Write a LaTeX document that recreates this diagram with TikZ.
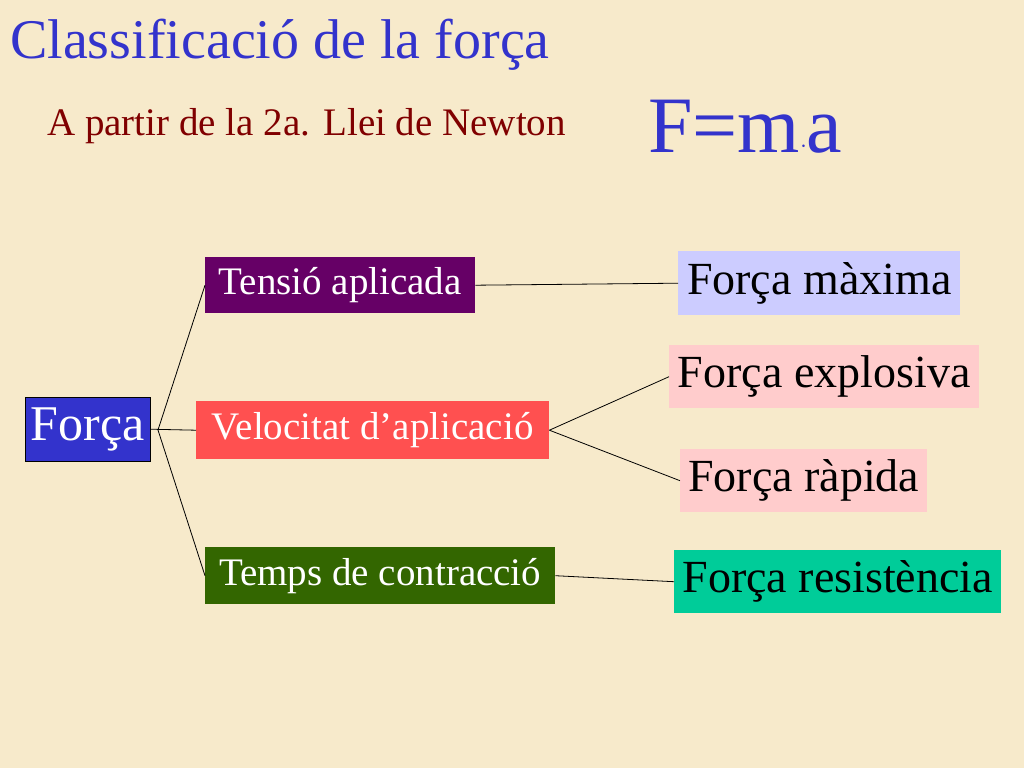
\documentclass[tikz,border=0pt]{standalone}
\usepackage{fontspec}
\setmainfont{Liberation Serif}
\definecolor{bg}{HTML}{F7EACB}
\definecolor{tblue}{HTML}{3333CC}
\definecolor{dred}{HTML}{800000}
\definecolor{purp}{HTML}{660066}
\definecolor{redb}{HTML}{FF5050}
\definecolor{grn}{HTML}{336600}
\definecolor{lav}{HTML}{CCCCFF}
\definecolor{pink}{HTML}{FFCCCC}
\definecolor{teal}{HTML}{00CC99}
\begin{document}
\begin{tikzpicture}[x=1pt,y=-1pt,
  mid/.style={inner sep=0pt,font=\fontsize{39}{42}\selectfont,text=white,anchor=north west},
  big/.style={inner sep=0pt,font=\fontsize{46}{50}\selectfont,anchor=north west},
  ln/.style={black,line width=0.8pt}]
\fill[bg] (0,0) rectangle (1024,768);
\useasboundingbox (0,0) rectangle (1024,768);
\node[anchor=west,text=tblue,font=\fontsize{56}{60}\selectfont,inner sep=0] (title) at (10,45) {Classificació de la força};
\node[anchor=west,text=dred,font=\fontsize{39}{42}\selectfont,inner sep=0] (sub) at (47,126) {A partir de la 2a. Llei de Newton};
\node[anchor=west,text=tblue,font=\fontsize{80}{84}\selectfont,inner sep=0] (fma) at (648,127) {F=m$\cdot$a};
\node[mid,fill=tblue,draw=black,minimum width=125,minimum height=64,font=\fontsize{50}{54}\selectfont] (forca) at (25,397) {Força};
\node[mid,fill=purp,minimum width=270,minimum height=56] (ten) at (205,257) {Tensió aplicada};
\node[mid,fill=redb,minimum width=353,minimum height=58] (vel) at (196,401) {Velocitat d’aplicació};
\node[mid,fill=grn,minimum width=350,minimum height=57] (tem) at (205,547) {Temps de contracció};
\node[big,fill=lav,minimum width=282,minimum height=64] (max) at (678,251) {Força màxima};
\node[big,fill=pink,minimum width=310,minimum height=63] (exp) at (669,345) {Força explosiva};
\node[big,fill=pink,minimum width=247,minimum height=63] (rap) at (680,449) {Força ràpida};
\node[big,fill=teal,minimum width=327,minimum height=63] (res) at (674,550) {Força resistència};
\coordinate (br) at (158,430);
\draw[ln] (forca.east) -- (vel.west);
\draw[ln] (br) -- (ten.west);
\draw[ln] (br) -- (tem.west);
\draw[ln] (ten.east) -- (max.west);
\draw[ln] (vel.east) -- (exp.west);
\draw[ln] (vel.east) -- (rap.west);
\draw[ln] (tem.east) -- (res.west);
\end{tikzpicture}
\end{document}
